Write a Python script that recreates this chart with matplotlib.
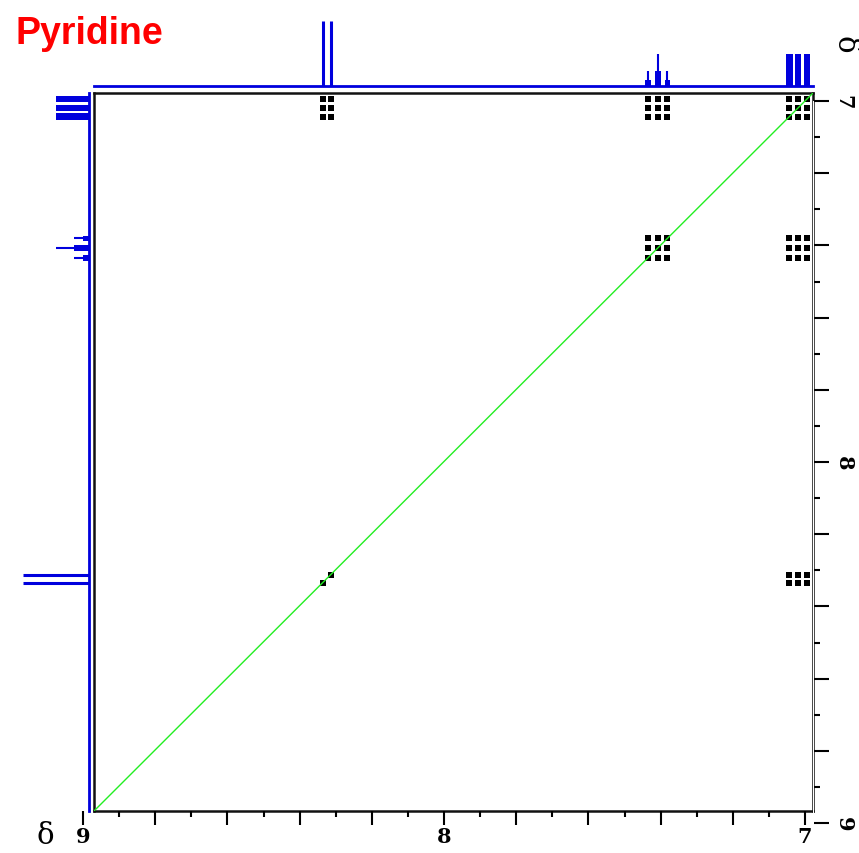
import numpy as np
import matplotlib.pyplot as plt

W, H = 859, 854

# multiplet lines (ppm) and relative heights read from the projections
alpha_ppm = [8.364, 8.342]
alpha_int = [1.0, 1.0]
gamma_ppm = [7.460, 7.432, 7.405]
gamma_int = [0.23, 0.50, 0.23]
gamma_base = [0.09, 0.23, 0.09]
beta_ppm = [7.066, 7.042, 7.016]
beta_int = [0.50, 0.50, 0.50]

groups = {'alpha': alpha_ppm, 'gamma': gamma_ppm, 'beta': beta_ppm}
# (x group, y group) pairs that show a full grid of cross peaks
cross_pairs = [('alpha', 'beta'), ('gamma', 'beta'), ('beta', 'beta'),
               ('gamma', 'gamma'), ('beta', 'gamma'), ('beta', 'alpha')]
diag_only = ['alpha']

major_ticks = [9.0, 8.8, 8.6, 8.4, 8.2, 8.0, 7.8, 7.6, 7.4, 7.2, 7.0]
minor_ticks = [8.9, 8.7, 8.5, 8.3, 8.1, 7.9, 7.7, 7.5, 7.3, 7.1]
tick_labels = {9.0: '9', 8.0: '8', 7.0: '7'}

BLUE = '#0000dd'


def box(x0, y0, x1, y1):
    # pixel box -> figure fraction
    return [x0 / W, 1 - y1 / H, (x1 - x0) / W, (y1 - y0) / H]


fig = plt.figure(figsize=(W / 100, H / 100), dpi=100)

# main 2D frame
ax = fig.add_axes(box(94, 94, 813, 812))
ax.set_xlim(9, 7)
ax.set_ylim(9, 7)
ax.set_xticks([])
ax.set_yticks([])
for s in ax.spines.values():
    s.set_linewidth(1.8)
    s.set_color('#111111')

for gx, gy in cross_pairs:
    xx, yy = np.meshgrid(groups[gx], groups[gy])
    ax.scatter(xx.ravel(), yy.ravel(), marker='s', s=23, c='black',
               linewidths=0, zorder=3)
for g in diag_only:
    ax.scatter(groups[g], groups[g], marker='s', s=16, c='black',
               linewidths=0, zorder=3)
ax.plot([9, 7], [9, 7], color='#22ee22', lw=1.0, zorder=5)

# top projection
top = fig.add_axes(box(94, 18, 813, 87))
top.set_xlim(9, 7)
top.set_ylim(0, 69 / 65)
top.axis('off')
top.plot([9, 7], [0, 0], color=BLUE, lw=2, clip_on=False)
top.vlines(alpha_ppm, 0, alpha_int, color=BLUE, lw=2.2)
top.vlines(gamma_ppm, 0, gamma_int, color=BLUE, lw=1.5)
top.bar(gamma_ppm, gamma_base, width=0.016, color=BLUE)
top.bar(beta_ppm, beta_int, width=0.018, color=BLUE)

# left projection
left = fig.add_axes(box(18, 94, 88.5, 812))
left.set_ylim(9, 7)
left.set_xlim(70.5 / 65, 0)
left.axis('off')
left.plot([0, 0], [9, 7], color=BLUE, lw=2, clip_on=False)
left.hlines(alpha_ppm, 0, alpha_int, color=BLUE, lw=2.2)
left.hlines(gamma_ppm, 0, gamma_int, color=BLUE, lw=1.5)
left.barh(gamma_ppm, gamma_base, height=0.016, color=BLUE)
left.barh(beta_ppm, beta_int, height=0.018, color=BLUE)

# bottom ppm scale (slightly offset from the frame, as in the original)
bx = fig.add_axes(box(83, 811.5, 805, 812))
bx.set_xlim(9, 7)
bx.set_yticks([])
for s in bx.spines.values():
    s.set_visible(False)
bx.set_xticks(major_ticks)
bx.set_xticklabels([tick_labels.get(t, '') for t in major_ticks])
bx.set_xticks(minor_ticks, minor=True)
bx.tick_params(axis='x', which='major', length=10, width=1.5, pad=1,
               labelsize=15)
bx.tick_params(axis='x', which='minor', length=4, width=1.5)
for lab in bx.get_xticklabels():
    lab.set_family('DejaVu Serif')
    lab.set_fontweight('bold')

# right ppm scale
rx = fig.add_axes(box(813, 102, 814, 824))
rx.set_ylim(9, 7)
rx.set_xticks([])
for s in rx.spines.values():
    s.set_visible(False)
rx.yaxis.tick_right()
rx.set_yticks(major_ticks)
rx.set_yticklabels([tick_labels.get(t, '') for t in major_ticks])
rx.set_yticks(minor_ticks, minor=True)
rx.tick_params(axis='y', which='major', length=11, width=1.5, pad=3,
               labelsize=15)
rx.tick_params(axis='y', which='minor', length=4, width=1.5)
for lab in rx.get_yticklabels():
    lab.set_family('DejaVu Serif')
    lab.set_fontweight('bold')
    lab.set_rotation(-90)
    lab.set_va('center')

fig.text(15 / W, 1 - 44 / H, 'Pyridine', color='red', fontsize=27,
         family='Liberation Sans', fontweight='bold', va='baseline')
fig.text(45 / W, 1 - 836 / H, 'δ', fontsize=21, family='DejaVu Serif',
         ha='center', va='center')
fig.text(845 / W, 1 - 45 / H, 'δ', fontsize=21, family='DejaVu Serif',
         ha='center', va='center', rotation=-90)

fig.savefig('out.png', dpi=100)
